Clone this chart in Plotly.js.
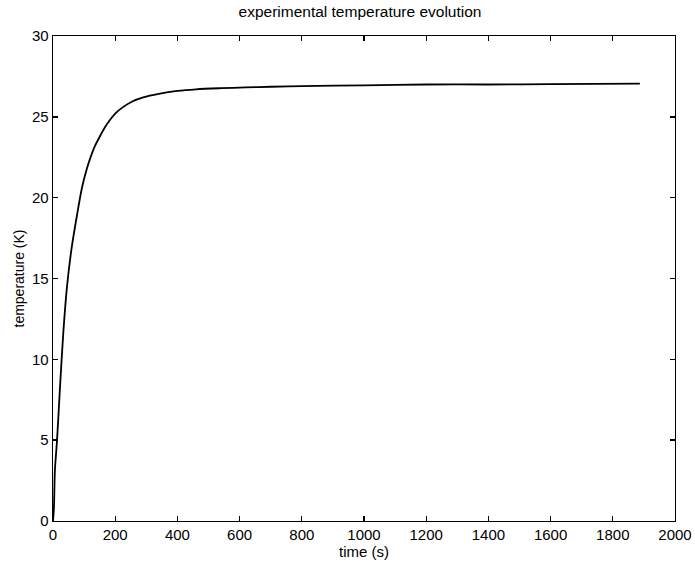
<!DOCTYPE html>
<html>
<head>
<meta charset="utf-8">
<script src="https://cdn.plot.ly/plotly-3.0.1.min.js"></script>
<style>html,body{margin:0;padding:0;background:#fff;}#chart{width:695px;height:565px;}</style>
</head>
<body>
<div id="chart"></div>
<script>
var timeS = [0, 3, 6, 13, 22, 33, 45, 60, 77, 93, 109, 119, 135, 151, 167, 183, 200, 225, 255, 290, 340, 400, 460, 540, 620, 700, 800, 1000, 1200, 1400, 1600, 1887];
var tempK = [0, 0.8, 3.1, 5.0, 8.1, 11.6, 14.5, 16.9, 18.9, 20.6, 21.8, 22.4, 23.2, 23.8, 24.35, 24.8, 25.2, 25.6, 25.95, 26.2, 26.42, 26.6, 26.7, 26.77, 26.82, 26.86, 26.9, 26.95, 27.0, 27.0, 27.02, 27.05];
var xTicks = [0, 200, 400, 600, 800, 1000, 1200, 1400, 1600, 1800, 2000];
var yTicks = [0, 5, 10, 15, 20, 25, 30];

var trace = {
  x: timeS, y: tempK, mode: 'lines', type: 'scatter',
  line: {color: '#000', width: 1.8, shape: 'spline', smoothing: 0.8},
  hoverinfo: 'skip'
};
var fontFam = '"Liberation Sans", Arial, Helvetica, sans-serif';
var axisCommon = {
  showgrid: false, zeroline: false, showline: true, linecolor: '#000', linewidth: 1.4,
  mirror: 'ticks', ticks: 'inside', ticklen: 5, tickwidth: 1.4, tickcolor: '#000',
  tickfont: {family: fontFam, size: 15, color: '#000'}
};
var layout = {
  width: 695, height: 565,
  margin: {l: 53, r: 20, t: 36, b: 44},
  paper_bgcolor: '#fff', plot_bgcolor: '#fff',
  showlegend: false,
  title: {text: 'experimental temperature evolution', font: {family: fontFam, size: 15.5, color: '#000'}, x: 0.518, xanchor: 'center', y: 0.979, yanchor: 'middle'},
  xaxis: Object.assign({}, axisCommon, {range: [0, 2000], tickvals: xTicks, ticktext: xTicks.map(String),
    title: {text: 'time (s)', font: {family: fontFam, size: 15, color: '#000'}, standoff: 0}}),
  yaxis: Object.assign({}, axisCommon, {range: [0, 30], tickvals: yTicks, ticktext: yTicks.map(String),
    title: {text: 'temperature (K)', font: {family: fontFam, size: 14, color: '#000'}, standoff: 4}})
};
Plotly.newPlot('chart', [trace], layout, {displayModeBar: false, staticPlot: true});
</script>
</body>
</html>
